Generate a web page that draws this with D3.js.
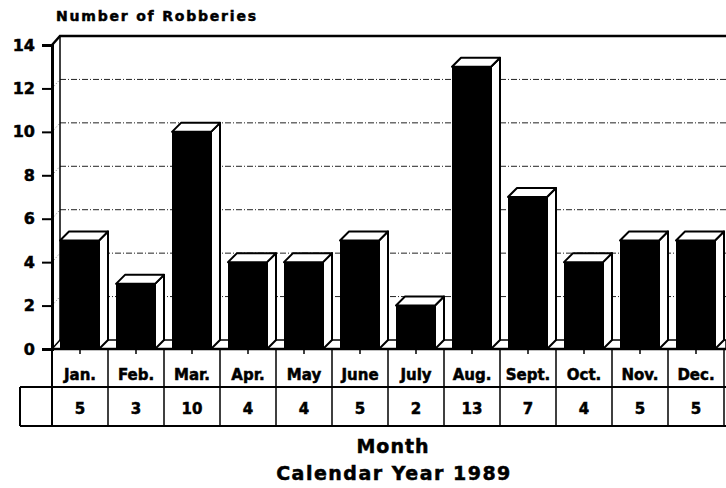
<!DOCTYPE html>
<html>
<head>
<meta charset="utf-8">
<script src="https://cdn.jsdelivr.net/npm/d3@7"></script>
<style>
  body { margin: 0; background: #fff; }
  text { font-family: "DejaVu Sans", "Liberation Sans", Arial, sans-serif; font-weight: bold; fill: #000;
         stroke: #000; stroke-width: 0.5px; }
</style>
</head>
<body>
<div id="chart"></div>
<script>
var months = ["Jan.", "Feb.", "Mar.", "Apr.", "May", "June", "July", "Aug.", "Sept.", "Oct.", "Nov.", "Dec."];
var robberies = [5, 3, 10, 4, 4, 5, 2, 13, 7, 4, 5, 5];
var yTicks = [0, 2, 4, 6, 8, 10, 12, 14];

var W = 726, H = 488;
var left = 52, right = 724, zero = 349, top14 = 45;
var wallDx = 8, wallDy = -9;   // depth of the back wall
var barDx = 9, barDy = -9;     // depth of each bar

var svg = d3.select("#chart").append("svg").attr("width", W).attr("height", H);

var y = d3.scaleLinear().domain([0, 14]).range([zero, top14]);
var x = d3.scaleBand().domain(months).range([left, right]);

// title
svg.append("text").attr("x", 56).attr("y", 21).style("font-size", "14px")
   .style("letter-spacing", "1.8px").text("Number of Robberies");

// back wall gridlines
var grid = svg.append("g");
yTicks.filter(function(t){ return t > 0 && t < 14; }).forEach(function(t){
  grid.append("line")
      .attr("x1", left + wallDx).attr("x2", W)
      .attr("y1", y(t) + wallDy).attr("y2", y(t) + wallDy)
      .attr("stroke", "#222").attr("stroke-width", 1).attr("stroke-dasharray", "6,2,1,2");
  grid.append("line")
      .attr("x1", left).attr("x2", left + wallDx)
      .attr("y1", y(t)).attr("y2", y(t) + wallDy)
      .attr("stroke", "#555").attr("stroke-width", 0.8).attr("stroke-dasharray", "1,2");
});

// walls
svg.append("line").attr("x1", left + wallDx).attr("x2", left + wallDx)
   .attr("y1", y(14) + wallDy).attr("y2", zero + wallDy).attr("stroke", "#000").attr("stroke-width", 1.5);
svg.append("path")
   .attr("d", "M" + left + "," + y(14) + "L" + (left + wallDx) + "," + (y(14) + wallDy) + "L" + W + "," + (y(14) + wallDy))
   .attr("fill", "none").attr("stroke", "#000").attr("stroke-width", 2.5);

// floor
svg.append("path")
   .attr("d", "M" + left + "," + zero + "L" + (left + wallDx) + "," + (zero + wallDy) + "L" + W + "," + (zero + wallDy) + "L" + W + "," + zero + "Z")
   .attr("fill", "#fff").attr("stroke", "#000").attr("stroke-width", 1.5);

// bars
var bars = svg.append("g").selectAll("g").data(robberies).enter().append("g");
var bx = function(i){ return x(months[i]) + wallDx; };
var bw = x.bandwidth() - wallDx - barDx;

bars.append("path") // side face
    .attr("d", function(d, i){
      var x1 = bx(i) + bw;
      return "M" + x1 + "," + y(d) + "L" + (x1 + barDx) + "," + (y(d) + barDy) +
             "L" + (x1 + barDx) + "," + (zero + barDy) + "L" + x1 + "," + zero + "Z";
    })
    .attr("fill", "#fff").attr("stroke", "#000").attr("stroke-width", 2).attr("stroke-linejoin", "round");
bars.append("path") // top face
    .attr("d", function(d, i){
      var x0 = bx(i);
      return "M" + x0 + "," + y(d) + "L" + (x0 + barDx) + "," + (y(d) + barDy) +
             "L" + (x0 + bw + barDx) + "," + (y(d) + barDy) + "L" + (x0 + bw) + "," + y(d) + "Z";
    })
    .attr("fill", "#fff").attr("stroke", "#000").attr("stroke-width", 2).attr("stroke-linejoin", "round");
bars.append("rect") // front face
    .attr("x", function(d, i){ return bx(i); })
    .attr("y", function(d){ return y(d); })
    .attr("width", bw)
    .attr("height", function(d){ return zero - y(d); })
    .attr("fill", "#000");

// y axis
var yAxis = svg.append("g").attr("transform", "translate(" + left + ",0)")
   .call(d3.axisLeft(y).tickValues(yTicks).tickSize(10).tickPadding(7));
yAxis.select(".domain").attr("stroke-width", 3);
yAxis.selectAll(".tick line").attr("stroke-width", 2);
yAxis.selectAll("text").style("font-size", "16px")
   .style("font-family", "'DejaVu Sans', 'Liberation Sans', Arial, sans-serif").style("font-weight", "bold");

// data table
var row2 = 387, row3 = 426;
var tbl = svg.append("g").attr("stroke", "#000").attr("stroke-width", 2).attr("fill", "none");
tbl.append("line").attr("x1", left).attr("x2", W).attr("y1", zero).attr("y2", zero).attr("stroke-width", 2.5);
tbl.append("line").attr("x1", 20).attr("x2", W).attr("y1", row2).attr("y2", row2);
tbl.append("line").attr("x1", 20).attr("x2", W).attr("y1", row3).attr("y2", row3);
tbl.append("line").attr("x1", 20).attr("x2", 20).attr("y1", row2).attr("y2", row3);
tbl.append("line").attr("x1", left).attr("x2", left).attr("y1", zero).attr("y2", row3);
months.forEach(function(m){
  tbl.append("line").attr("x1", x(m) + x.bandwidth()).attr("x2", x(m) + x.bandwidth())
     .attr("y1", zero).attr("y2", row3).attr("stroke-width", 1.5);
  tbl.append("line").attr("x1", x(m) + x.bandwidth() / 2).attr("x2", x(m) + x.bandwidth() / 2)
     .attr("y1", zero).attr("y2", zero + 5).attr("stroke-width", 1.5);
});

svg.append("g").selectAll("text").data(months).enter().append("text")
   .attr("x", function(d){ return x(d) + x.bandwidth() / 2; })
   .attr("y", 380).attr("text-anchor", "middle").style("font-size", "15px")
   .text(function(d){ return d; });
svg.append("g").selectAll("text").data(robberies).enter().append("text")
   .attr("x", function(d, i){ return x(months[i]) + x.bandwidth() / 2; })
   .attr("y", 414).attr("text-anchor", "middle").style("font-size", "15px")
   .text(function(d){ return d; });

// axis titles
svg.append("text").attr("x", 393).attr("y", 453).attr("text-anchor", "middle")
   .style("font-size", "19px").style("letter-spacing", "1px").text("Month");
svg.append("text").attr("x", 394).attr("y", 480).attr("text-anchor", "middle")
   .style("font-size", "19px").style("letter-spacing", "1.5px").text("Calendar Year 1989");
</script>
</body>
</html>
